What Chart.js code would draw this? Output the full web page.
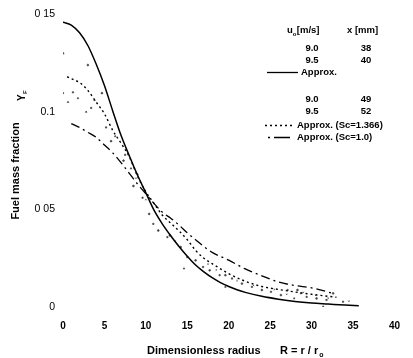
<!DOCTYPE html>
<html>
<head>
<meta charset="utf-8">
<script src="https://cdn.jsdelivr.net/npm/chart.js@4.4.1/dist/chart.umd.min.js"></script>
<style>
  html, body { margin: 0; padding: 0; background: #fff; }
  canvas { display: block; }
</style>
</head>
<body>
<canvas id="c" width="413" height="358"></canvas>
<script>
// ---- data ----
const xTicks = [0, 5, 10, 15, 20, 25, 30, 35, 40];
const yTickLabels = ['0', '0 05', '0.1', '0 15'];

// Approx. (solid)
const approxR = [0,1,2,3,4,5,6,7,8,9,10,11,12,13,14,15,16,17,18,19,20,21,22,24,26,28,30,32,34,35.7];
const approxY = [0.146,0.1445,0.1405,0.134,0.1245,0.1135,0.1005,0.088,0.0775,0.0675,0.0585,0.0495,0.0425,0.0365,0.031,0.026,0.0215,0.018,0.015,0.0125,0.0105,0.0088,0.0075,0.0055,0.004,0.0028,0.002,0.0015,0.001,0.0006];

// Approx. (Sc=1.366) dotted
const sc1366R = [0.5,1,2,3,4,5,6,7,8,9,10,11,12,13,14,15,16,17,18,20,22,24,26,28,30,33];
const sc1366Y = [0.118,0.117,0.115,0.111,0.105,0.099,0.0905,0.084,0.077,0.067,0.059,0.053,0.047,0.043,0.039,0.0345,0.029,0.025,0.0222,0.0171,0.0132,0.0105,0.009,0.0077,0.0065,0.005];

// Approx. (Sc=1.0) dash-dot
const sc10R = [1,2,3,4,5,6,7,8,9,10,11,12,13,14,15,16,17,18,20,22,24,26,28,30,32.6];
const sc10Y = [0.094,0.092,0.0895,0.087,0.083,0.079,0.074,0.0685,0.063,0.058,0.053,0.0485,0.0455,0.042,0.038,0.0345,0.031,0.028,0.024,0.0195,0.016,0.0128,0.011,0.0098,0.007];

// measured points (u0=9.0/x=38, 9.5/40, 9.0/49, 9.5/52)
const m1R = [0,3,4.7,5.8,7.3,8.5,10.4,11.5,12.9,14.2,16,17.7,19.6,21.6,24,26.3,28.3,30.6,32.6];
const m1Y = [0.130,0.124,0.1096,0.085,0.075,0.062,0.0477,0.0392,0.0367,0.0307,0.0239,0.0188,0.0163,0.012,0.0087,0.0061,0.0087,0.0044,0.007];
const m2R = [0,1.2,3.4,5.2,7.5,9.6,10.9,12.6,15,16.9,18.9,20.4,22.8,25.1,27.1,29.4,31.8,33.8];
const m2Y = [0.1096,0.110,0.102,0.092,0.078,0.056,0.0426,0.0358,0.0256,0.0205,0.0163,0.0146,0.0103,0.0078,0.0087,0.0052,0.0036,0.0027];
const m3R = [0.6,1.8,2.8,3.8,6.3,8.2,9,14.6,19.6,27.9,28.7,31.4];
const m3Y = [0.105,0.107,0.100,0.106,0.0875,0.071,0.068,0.0197,0.0103,0.0044,0.007,0.0002];
const m4R = [8.8,10,13.5,17.5,18.5,21,23,25.5,27,29,30.5,32,34.5];
const m4Y = [0.066,0.055,0.034,0.022,0.019,0.0135,0.011,0.009,0.0065,0.0075,0.006,0.0045,0.003];

const legendRows1 = [['9.0', '38'], ['9.5', '40']];
const legendRows2 = [['9.0', '49'], ['9.5', '52']];

// ---- helpers ----
const pts = (xs, ys) => xs.map((x, i) => ({ x: x, y: ys[i] }));
const FONT = '"Liberation Sans", Arial, Helvetica, sans-serif';

function lineSet(label, xs, ys, width, dash) {
  return {
    label, data: pts(xs, ys), showLine: true, pointRadius: 0,
    borderColor: '#000', borderWidth: width, borderDash: dash,
    cubicInterpolationMode: 'monotone', fill: false, order: 0
  };
}
function markSet(label, xs, ys, style) {
  return {
    label, data: pts(xs, ys), showLine: false, pointRadius: 0.9,
    pointStyle: style, backgroundColor: '#444', borderColor: '#444',
    borderWidth: 0.7, order: 1
  };
}

const bgPlugin = {
  id: 'bg',
  beforeDraw(chart) {
    const c = chart.ctx;
    c.save(); c.fillStyle = '#fff';
    c.fillRect(0, 0, chart.width, chart.height); c.restore();
  }
};

const textPlugin = {
  id: 'texts',
  afterDraw(chart) {
    const c = chart.ctx;
    c.save();
    c.fillStyle = '#000';
    c.strokeStyle = '#000';
    c.textBaseline = 'middle';

    // x axis title
    c.font = 'bold 11px ' + FONT;
    c.textAlign = 'left';
    c.fillText('Dimensionless radius', 147, 351);
    c.fillText('R = r / r', 280, 351);
    const w = c.measureText('R = r / r').width;
    c.font = 'bold 7px ' + FONT;
    c.fillText('o', 280 + w + 1, 355);

    // y axis title
    c.save();
    c.translate(16, 171);
    c.rotate(-Math.PI / 2);
    c.font = 'bold 11px ' + FONT;
    c.textAlign = 'center';
    c.fillText('Fuel mass fraction', 0, 0);
    c.restore();

    c.save();
    c.translate(22, 101);
    c.rotate(-Math.PI / 2);
    c.font = 'bold 10px ' + FONT;
    c.textAlign = 'left';
    c.fillText('Y', 0, 0);
    c.font = 'bold 6px ' + FONT;
    c.fillText('F', 7, 3);
    c.restore();

    // legend
    c.font = 'bold 9.5px ' + FONT;
    c.textAlign = 'left';
    c.fillText('u', 287, 30);
    const uw = c.measureText('u').width;
    c.font = 'bold 6px ' + FONT;
    c.fillText('o', 287 + uw, 34);
    c.font = 'bold 9.5px ' + FONT;
    c.fillText('[m/s]', 287 + uw + 4, 30);
    c.fillText('x [mm]', 347, 30);

    c.textAlign = 'center';
    legendRows1.forEach((r, i) => {
      c.fillText(r[0], 312, 48 + i * 12.5);
      c.fillText(r[1], 366, 48 + i * 12.5);
    });
    legendRows2.forEach((r, i) => {
      c.fillText(r[0], 312, 99 + i * 12.5);
      c.fillText(r[1], 366, 99 + i * 12.5);
    });

    c.textAlign = 'left';
    // solid sample
    c.lineWidth = 1.3; c.setLineDash([]);
    c.beginPath(); c.moveTo(267, 72.5); c.lineTo(298, 72.5); c.stroke();
    c.fillText('Approx.', 301, 72);
    // dotted sample
    c.setLineDash([2, 3]);
    c.beginPath(); c.moveTo(265, 125.5); c.lineTo(293, 125.5); c.stroke();
    c.setLineDash([]);
    c.fillText('Approx. (Sc=1.366)', 297, 125);
    // dash-dot sample
    c.setLineDash([2, 4, 14, 0]);
    c.beginPath(); c.moveTo(268, 137.5); c.lineTo(293, 137.5); c.stroke();
    c.setLineDash([]);
    c.fillText('Approx. (Sc=1.0)', 297, 137);

    c.restore();
  }
};

new Chart(document.getElementById('c').getContext('2d'), {
  type: 'scatter',
  data: {
    datasets: [
      lineSet('Approx.', approxR, approxY, 1.5, []),
      lineSet('Approx. (Sc=1.366)', sc1366R, sc1366Y, 1.4, [2, 3]),
      lineSet('Approx. (Sc=1.0)', sc10R, sc10Y, 1.3, [9, 4, 2, 4]),
      markSet('9.0 / 38', m1R, m1Y, 'circle'),
      markSet('9.5 / 40', m2R, m2Y, 'rect'),
      markSet('9.0 / 49', m3R, m3Y, 'triangle'),
      markSet('9.5 / 52', m4R, m4Y, 'crossRot')
    ]
  },
  options: {
    responsive: false,
    animation: false,
    layout: { padding: { top: 12, right: 11, left: 0, bottom: 0 } },
    plugins: { legend: { display: false }, tooltip: { enabled: false } },
    scales: {
      x: {
        type: 'linear', min: 0, max: 40,
        afterBuildTicks(s) { s.ticks = xTicks.map(v => ({ value: v })); },
        ticks: { padding: 13, color: '#000', maxRotation: 0,
                 font: { family: FONT, size: 10, weight: 'bold' } },
        grid: { display: false, drawTicks: false },
        border: { display: false },
        afterFit(s) { s.height = 51; }
      },
      y: {
        type: 'linear', min: 0, max: 0.15,
        ticks: { stepSize: 0.05, padding: 8, color: '#000',
                 callback: (v, i) => yTickLabels[i],
                 font: { family: FONT, size: 10.5 } },
        grid: { display: false, drawTicks: false },
        border: { display: false },
        afterFit(s) { s.width = 63; }
      }
    }
  },
  plugins: [bgPlugin, textPlugin]
});
</script>
</body>
</html>
